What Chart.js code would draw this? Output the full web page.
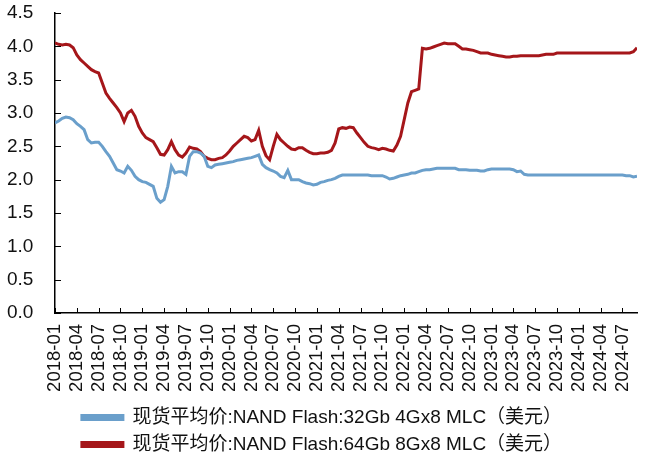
<!DOCTYPE html>
<html>
<head>
<meta charset="utf-8">
<script src="https://cdn.jsdelivr.net/npm/chart.js@4.4.1/dist/chart.umd.min.js"></script>
<style>
    html, body { margin: 0; padding: 0; background: #fff; }
    #wrap { width: 650px; height: 458px; }
</style>
</head>
<body>
<div id="wrap"><canvas id="nand-chart"></canvas></div>
<script>
    "use strict";

    // Quarter tick labels (every 3 months from 2018-01)
    var tickLabels = ["2018-01", "2018-04", "2018-07", "2018-10", "2019-01", "2019-04", "2019-07", "2019-10",
        "2020-01", "2020-04", "2020-07", "2020-10", "2021-01", "2021-04", "2021-07", "2021-10",
        "2022-01", "2022-04", "2022-07", "2022-10", "2023-01", "2023-04", "2023-07", "2023-10",
        "2024-01", "2024-04", "2024-07"];

    var seriesNames = ["现货平均价:NAND Flash:32Gb 4Gx8 MLC（美元）", "现货平均价:NAND Flash:64Gb 8Gx8 MLC（美元）"];

    // Half-month samples starting 2018-01
    var mlc32 = [2.85, 2.88, 2.92, 2.94, 2.93, 2.90, 2.84, 2.80, 2.75, 2.60,
        2.55, 2.56, 2.56, 2.50, 2.42, 2.35, 2.25, 2.15, 2.13, 2.10,
        2.20, 2.14, 2.05, 2.00, 1.97, 1.96, 1.93, 1.90, 1.72, 1.66,
        1.70, 1.90, 2.20, 2.10, 2.12, 2.12, 2.08, 2.35, 2.42, 2.42,
        2.40, 2.35, 2.20, 2.18, 2.22, 2.23, 2.24, 2.25, 2.26, 2.27,
        2.29, 2.30, 2.31, 2.32, 2.33, 2.35, 2.37, 2.23, 2.18, 2.15,
        2.13, 2.10, 2.05, 2.03, 2.14, 2.00, 2.00, 2.00, 1.97, 1.95,
        1.94, 1.92, 1.93, 1.96, 1.97, 1.99, 2.00, 2.02, 2.05, 2.07,
        2.07, 2.07, 2.07, 2.07, 2.07, 2.07, 2.07, 2.06, 2.06, 2.06,
        2.06, 2.04, 2.01, 2.02, 2.04, 2.06, 2.07, 2.08, 2.10, 2.10,
        2.12, 2.14, 2.15, 2.15, 2.16, 2.17, 2.17, 2.17, 2.17, 2.17,
        2.17, 2.15, 2.15, 2.15, 2.14, 2.14, 2.14, 2.13, 2.13, 2.15,
        2.16, 2.16, 2.16, 2.16, 2.16, 2.16, 2.15, 2.12, 2.13, 2.08,
        2.07, 2.07, 2.07, 2.07, 2.07, 2.07, 2.07, 2.07, 2.07, 2.07,
        2.07, 2.07, 2.07, 2.07, 2.07, 2.07, 2.07, 2.07, 2.07, 2.07,
        2.07, 2.07, 2.07, 2.07, 2.07, 2.07, 2.07, 2.06, 2.06, 2.04,
        2.05];

    var mlc64 = [4.05, 4.03, 4.02, 4.03, 4.02, 3.98, 3.87, 3.80, 3.75, 3.70,
        3.65, 3.62, 3.60, 3.45, 3.30, 3.22, 3.15, 3.08, 3.00, 2.87,
        3.00, 3.04, 2.95, 2.80, 2.70, 2.63, 2.60, 2.57, 2.48, 2.38,
        2.37, 2.45, 2.57, 2.45, 2.37, 2.34, 2.40, 2.49, 2.47, 2.46,
        2.42, 2.35, 2.32, 2.30, 2.30, 2.32, 2.33, 2.37, 2.43, 2.50,
        2.55, 2.60, 2.65, 2.63, 2.58, 2.60, 2.74, 2.50, 2.36, 2.30,
        2.50, 2.68, 2.60, 2.55, 2.50, 2.46, 2.45, 2.48, 2.48, 2.44,
        2.41, 2.39, 2.39, 2.40, 2.40, 2.41, 2.44, 2.55, 2.76, 2.78,
        2.77, 2.79, 2.78, 2.70, 2.63, 2.56, 2.50, 2.48, 2.47, 2.45,
        2.47, 2.46, 2.44, 2.43, 2.52, 2.65, 2.90, 3.15, 3.32, 3.34,
        3.36, 3.97, 3.96, 3.97, 3.99, 4.01, 4.03, 4.05, 4.04, 4.04,
        4.04, 4.00, 3.96, 3.96, 3.95, 3.94, 3.92, 3.90, 3.90, 3.90,
        3.88, 3.87, 3.86, 3.85, 3.84, 3.84, 3.85, 3.85, 3.86, 3.86,
        3.86, 3.86, 3.86, 3.86, 3.87, 3.88, 3.88, 3.88, 3.90, 3.90,
        3.90, 3.90, 3.90, 3.90, 3.90, 3.90, 3.90, 3.90, 3.90, 3.90,
        3.90, 3.90, 3.90, 3.90, 3.90, 3.90, 3.90, 3.90, 3.90, 3.92,
        3.98];

    var toPoints = function (arr) {
        return arr.map(function (v, i) { return {x: i / 2, y: v}; });
    };

    // Tick marks pointing into the plot, like the original
    var innerTicks = {
        id: "innerTicks",
        afterDraw: function (chart) {
            var c = chart.ctx, area = chart.chartArea;
            var xs = chart.scales.x, ys = chart.scales.y;
            c.save();
            c.strokeStyle = "#000";
            c.lineWidth = 1;
            c.beginPath();
            xs.ticks.forEach(function (t) {
                var px = Math.round(xs.getPixelForValue(t.value)) + 0.5;
                c.moveTo(px, area.bottom);
                c.lineTo(px, area.bottom - 5);
            });
            ys.ticks.forEach(function (t) {
                var py = Math.round(ys.getPixelForValue(t.value)) + 0.5;
                c.moveTo(area.left, py);
                c.lineTo(area.left + 6, py);
            });
            c.stroke();
            c.restore();
        }
    };

    var fontFamily = "'Liberation Sans', Arial, 'Noto Sans CJK SC', sans-serif";

    var ctx = document.getElementById("nand-chart").getContext("2d");
    var myChart = new Chart(ctx, {
        type: "line",
        data: {
            datasets: [{
                    label: seriesNames[0],
                    data: toPoints(mlc32),
                    borderColor: "#6a9fcb",
                    backgroundColor: "#6a9fcb",
                    borderWidth: 3,
                    pointRadius: 0,
                    fill: false
                },
                {
                    label: seriesNames[1],
                    data: toPoints(mlc64),
                    borderColor: "#a5161a",
                    backgroundColor: "#a5161a",
                    borderWidth: 3,
                    pointRadius: 0,
                    fill: false
                }
            ]
        },
        options: {
            responsive: true,
            maintainAspectRatio: false,
            animation: false,
            layout: {
                padding: {left: 7, right: 13, top: 13, bottom: -6}
            },
            plugins: {
                tooltip: {enabled: false},
                legend: {
                    position: "bottom",
                    labels: {
                        boxWidth: 41,
                        boxHeight: 4,
                        padding: 8,
                        color: "#111",
                        font: {family: fontFamily, size: 19, lineHeight: 1}
                    }
                }
            },
            scales: {
                x: {
                    type: "linear",
                    min: 0,
                    max: 80,
                    afterBuildTicks: function (scale) {
                        scale.ticks = tickLabels.map(function (l, i) { return {value: i * 3}; });
                    },
                    afterFit: function (scale) {
                        scale.paddingLeft = 0;
                        scale.paddingRight = 0;
                        scale.height = 87;
                    },
                    ticks: {
                        autoSkip: false,
                        maxRotation: 90,
                        minRotation: 90,
                        padding: 11,
                        color: "#111",
                        font: {family: fontFamily, size: 18.5},
                        callback: function (value) {
                            return tickLabels[Math.round(value / 3)];
                        }
                    },
                    grid: {drawOnChartArea: false, drawTicks: false},
                    border: {color: "#000", width: 1.5}
                },
                y: {
                    min: 0,
                    max: 4.5,
                    afterFit: function (scale) {
                        scale.width = 48;
                        scale.paddingTop = 0;
                        scale.paddingBottom = 0;
                    },
                    ticks: {
                        stepSize: 0.5,
                        padding: 4,
                        crossAlign: "far",
                        color: "#111",
                        font: {family: fontFamily, size: 19},
                        callback: function (value) {
                            return value.toFixed(1);
                        }
                    },
                    grid: {drawOnChartArea: false, drawTicks: false},
                    border: {color: "#000", width: 1.5}
                }
            }
        },
        plugins: [innerTicks]
    });
</script>
</body>
</html>
